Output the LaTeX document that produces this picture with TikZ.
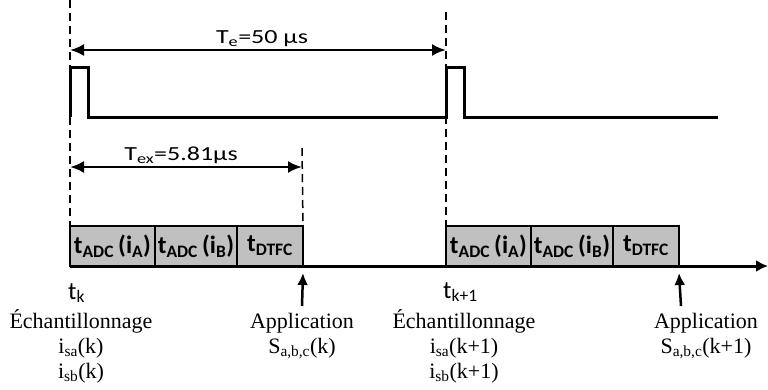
\documentclass[tikz,border=0pt]{standalone}
\usepackage{fontspec}
\setmainfont{Liberation Serif}
\setsansfont{Carlito}
\newfontfamily\labfont[FakeStretch=1.3]{Carlito}
\usetikzlibrary{positioning,arrows.meta}
\definecolor{BoxGray}{HTML}{C0C0C0}

\begin{document}
\begin{tikzpicture}[
    x=1pt, y=-1pt,
    slot/.style={draw=black, line width=2.5pt, fill=BoxGray, outer sep=0pt, inner sep=0pt,
      minimum height=40pt, align=center, font=\sffamily\bfseries\fontsize{25}{28}\selectfont},
    guide/.style={dashed, line width=1.5pt, dash pattern=on 8pt off 5pt},
    signal/.style={line width=3pt, line join=miter},
    span/.style={{Latex[length=14pt,width=12pt]}-{Latex[length=14pt,width=12pt]}, line width=2.5pt},
    axis/.style={-{Latex[length=12pt,width=12pt]}, line width=3pt},
    up/.style={-{Latex[length=12pt,width=11pt]}, line width=2.5pt},
    lab/.style={font=\labfont\fontsize{20}{24}\selectfont, inner sep=0pt, anchor=base},
    tick/.style={font=\sffamily\fontsize{25}{28}\selectfont, inner sep=0pt, anchor=base west},
    note/.style={font=\fontsize{22}{25}\selectfont, inner sep=0pt, align=center, anchor=base}
  ]
    \useasboundingbox (0,0) rectangle (768,389);

    % instants sur l'axe
    \coordinate (tk) at (70,266);
    \coordinate (tk1) at (446,266);
    \coordinate (end) at (768,266);

    % tranches de calcul
    \node[slot, minimum width=85pt, anchor=south west] (adcA) at (tk) {t\textsubscript{ADC}\,(i\textsubscript{A})};
    \node[slot, minimum width=82pt, right=0pt of adcA] (adcB) {t\textsubscript{ADC}\,(i\textsubscript{B})};
    \node[slot, minimum width=66pt, right=0pt of adcB] (dtfc) {t\textsubscript{DTFC}};
    \node[slot, minimum width=85pt, anchor=south west] (adcA2) at (tk1) {t\textsubscript{ADC}\,(i\textsubscript{A})};
    \node[slot, minimum width=82pt, right=0pt of adcA2] (adcB2) {t\textsubscript{ADC}\,(i\textsubscript{B})};
    \node[slot, minimum width=66pt, right=0pt of adcB2] (dtfc2) {t\textsubscript{DTFC}};

    \coordinate (app1) at (dtfc.south east);
    \coordinate (app2) at (dtfc2.south east);

    % reperes pointilles
    \coordinate (topk) at (70,0);
    \coordinate (topk1) at (446,12);
    \coordinate (topex) at (302,148);
    \draw[guide] (topk) -- (tk);
    \draw[guide] (topk1) -- (adcA2.north west);
    \draw[guide] (topex) -- (dtfc.north east);

    % signal d'echantillonnage
    \draw[signal] (70,117) -- (70,67) -- (88,67) -- (88,117) -- (446,117)
      -- (446,67) -- (464,67) -- (464,117) -- (718,117);

    % durees
    \coordinate (te1) at (70,50);
    \coordinate (te2) at (446,50);
    \draw[span] (te1) -- (te2);
    \node[lab] (Te) at (262,43) {T\textsubscript{e}=50 µs};
    \coordinate (tex1) at (70,167);
    \coordinate (tex2) at (302,167);
    \draw[span] (tex1) -- (tex2);
    \node[lab] (Tex) at (181,160) {T\textsubscript{ex}=5.81µs};

    % axe temporel
    \draw[axis] (tk) -- (end);

    % application des commandes
    \coordinate (app1b) at (302,306);
    \coordinate (app2b) at (681,306);
    \draw[up] (app1b) -- ([yshift=-7pt]app1);
    \draw[up] (app2b) -- ([yshift=-7pt]app2);

    % etiquettes
    \node[tick] (tkl) at (68,299) {t\textsubscript{k}};
    \node[tick] (tk1l) at (443,298) {t\textsubscript{k+1}};
    \node[note] (ech1) at (81,378) {Échantillonnage\\i\textsubscript{sa}(k)\\i\textsubscript{sb}(k)};
    \node[note] (ech2) at (464,378) {Échantillonnage\\i\textsubscript{sa}(k+1)\\i\textsubscript{sb}(k+1)};
    \node[note] (ap1) at (302,353) {Application\\S\textsubscript{a,b,c}(k)};
    \node[note] (ap2) at (706,353) {Application\\S\textsubscript{a,b,c}(k+1)};
  \end{tikzpicture}
\end{document}
